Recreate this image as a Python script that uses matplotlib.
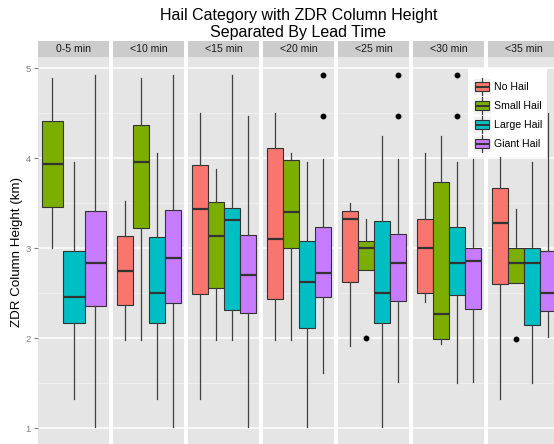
import matplotlib
matplotlib.use("Agg")
import matplotlib.pyplot as plt
from matplotlib.patches import Rectangle

plt.rcParams['font.family'] = ['Liberation Sans', 'DejaVu Sans']

lead_times = ["0-5 min", "<10 min", "<15 min", "<20 min", "<25 min", "<30 min", "<35 min"]
categories = ["No Hail", "Small Hail", "Large Hail", "Giant Hail"]
colors = ["#F8766D", "#7CAE00", "#00BFC4", "#C77CFF"]

# (lower whisker, Q1, median, Q3, upper whisker) per lead time; None = no cases
no_hail = [None,
           (1.98, 2.37, 2.75, 3.14, 3.53),
           (1.33, 2.49, 3.44, 3.92, 4.50),
           (1.98, 2.44, 3.10, 4.11, 4.50),
           (1.91, 2.62, 3.33, 3.41, 3.50),
           (2.40, 2.50, 3.00, 3.32, 4.06),
           (1.33, 2.60, 3.28, 3.67, 4.50)]
small_hail = [(3.00, 3.46, 3.94, 4.41, 4.89),
              (1.98, 3.23, 3.96, 4.37, 4.89),
              (1.98, 2.56, 3.14, 3.51, 3.88),
              (1.98, 3.00, 3.40, 3.98, 4.06),
              (2.76, 2.76, 3.00, 3.08, 3.32),
              (1.94, 1.99, 2.27, 3.74, 4.25),
              (2.61, 2.61, 2.84, 3.00, 3.44)]
large_hail = [(1.33, 2.17, 2.46, 2.97, 3.96),
              (1.33, 2.17, 2.50, 3.13, 4.06),
              (1.98, 2.31, 3.31, 3.45, 4.93),
              (1.01, 2.11, 2.62, 3.08, 3.96),
              (1.01, 2.17, 2.50, 3.30, 4.25),
              (1.50, 2.48, 2.84, 3.24, 3.96),
              (1.50, 2.15, 2.84, 3.00, 3.96)]
giant_hail = [(1.01, 2.36, 2.84, 3.41, 4.93),
              (1.01, 2.39, 2.89, 3.42, 4.93),
              (1.01, 2.28, 2.70, 3.15, 4.47),
              (1.61, 2.46, 2.72, 3.24, 3.99),
              (1.51, 2.41, 2.84, 3.16, 3.99),
              (1.51, 2.32, 2.86, 3.00, 3.99),
              (2.01, 2.30, 2.50, 2.97, 4.50)]

# outlying points per lead time
no_hail_out = [[], [], [], [], [], [], []]
small_hail_out = [[], [], [], [], [2.00], [], [1.99]]
large_hail_out = [[], [], [], [], [], [4.93, 4.47], []]
giant_hail_out = [[], [], [], [4.93, 4.47], [4.93, 4.47], [], []]

series = [no_hail, small_hail, large_hail, giant_hail]
series_out = [no_hail_out, small_hail_out, large_hail_out, giant_hail_out]

W, H = 554, 444
fig = plt.figure(figsize=(W / 100, H / 100), dpi=100)
fig.patch.set_facecolor("white")


def fx(px):
    return px / W


def fy(py):
    return 1 - py / H


panel_left0 = 38.3
panel_pitch = 75.0
panel_w = 71.0
panel_top = 57.0
panel_bot = 446.0
strip_top = 41.0

for i, lt in enumerate(lead_times):
    left = panel_left0 + panel_pitch * i
    ax = fig.add_axes([fx(left), fy(panel_bot), panel_w / W, (panel_bot - panel_top) / H])
    ax.set_facecolor("#E5E5E5")
    for s in ax.spines.values():
        s.set_visible(False)

    present = [k for k in range(4) if series[k][i] is not None]
    n = len(present)
    bw = 1.0 / n
    stats, pos, cols = [], [], []
    for j, k in enumerate(present):
        lo, q1, med, q3, hi = series[k][i]
        stats.append(dict(whislo=lo, q1=q1, med=med, q3=q3, whishi=hi,
                          fliers=series_out[k][i]))
        pos.append(-0.5 + bw * (j + 0.5))
        cols.append(colors[k])

    bp = ax.bxp(stats, positions=pos, widths=bw, patch_artist=True,
                showcaps=False, manage_ticks=False,
                boxprops=dict(edgecolor="#333333", linewidth=0.8),
                medianprops=dict(color="#333333", linewidth=1.6,
                                 solid_capstyle="butt"),
                whiskerprops=dict(color="#404040", linewidth=0.9),
                flierprops=dict(marker="o", markerfacecolor="black",
                                markeredgecolor="black", markersize=3.2))
    for patch, c in zip(bp["boxes"], cols):
        patch.set_facecolor(c)

    ax.set_xlim(-0.55, 0.55)
    ax.set_ylim(0.803, 5.1256)
    ax.set_yticks([1, 2, 3, 4, 5])
    ax.set_yticks([1.5, 2.5, 3.5, 4.5], minor=True)
    ax.set_xticks([])
    ax.grid(which="major", axis="y", color="white", linewidth=1.1)
    ax.grid(which="minor", axis="y", color="#F2F2F2", linewidth=0.5)
    ax.set_axisbelow(True)
    ax.tick_params(axis="y", which="minor", length=0)
    if i == 0:
        ax.set_yticklabels(["1", "2", "3", "4", "5"])
        ax.tick_params(axis="y", which="major", length=3, width=0.8,
                       color="#7F7F7F", labelcolor="#7F7F7F",
                       labelsize=6.8, pad=2.5)
    else:
        ax.tick_params(axis="y", which="major", length=0, labelleft=False)

    # facet strip
    sax = fig.add_axes([fx(left), fy(panel_top), panel_w / W, (panel_top - strip_top) / H])
    sax.set_facecolor("#CCCCCC")
    sax.set_xticks([])
    sax.set_yticks([])
    for s in sax.spines.values():
        s.set_visible(False)
    sax.text(0.5, 0.5, lt, ha="center", va="center", fontsize=7.6,
             color="#1A1A1A", transform=sax.transAxes)

# title and axis label
fig.text(fx(298.3), fy(24.0), "Hail Category with ZDR Column Height\nSeparated By Lead Time",
         ha="center", va="center", fontsize=11.5, linespacing=1.1)
fig.text(fx(17.0), fy(251.5), "ZDR Column Height (km)", rotation=90,
         ha="center", va="center", fontsize=9.6)

# legend
lg_l, lg_r, lg_t, lg_b = 468.3, 546.7, 68.3, 156.7
lax = fig.add_axes([fx(lg_l), fy(lg_b), (lg_r - lg_l) / W, (lg_b - lg_t) / H])
lax.set_xlim(0, lg_r - lg_l)
lax.set_ylim(lg_b - lg_t, 0)
lax.set_axis_off()
lax.add_patch(Rectangle((0, 0), lg_r - lg_l, lg_b - lg_t, facecolor="white",
                        edgecolor="none", zorder=0))
for j, (name, c) in enumerate(zip(categories, colors)):
    cy = 18.4 + 19.0 * j
    lax.add_patch(Rectangle((5.0, cy - 8.6), 17.7, 17.2, facecolor="#F2F2F2",
                            edgecolor="white", linewidth=0.6, zorder=1))
    lax.plot([13.85, 13.85], [cy - 8.6, cy - 4.2], color="#404040", lw=0.9, zorder=2)
    lax.plot([13.85, 13.85], [cy + 4.2, cy + 8.6], color="#404040", lw=0.9, zorder=2)
    lax.add_patch(Rectangle((7.0, cy - 4.2), 13.7, 8.4, facecolor=c,
                            edgecolor="#333333", linewidth=0.8, zorder=3))
    lax.plot([7.0, 20.7], [cy, cy], color="#333333", lw=1.4, zorder=4,
             solid_capstyle="butt")
    lax.text(26.0, cy, name, ha="left", va="center", fontsize=7.6, color="black")

fig.savefig("out.png", dpi=100, facecolor="white")
